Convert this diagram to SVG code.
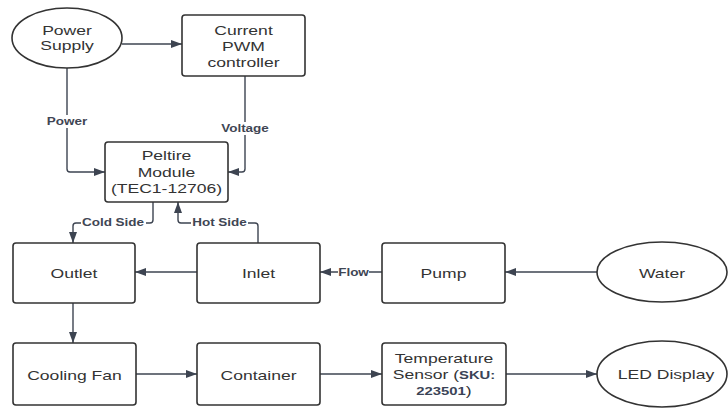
<svg xmlns="http://www.w3.org/2000/svg" width="728" height="408" viewBox="0 0 728 408">
<style>
.box{fill:#fff;stroke:#333;stroke-width:1.6}
.t{font-family:"Liberation Sans",Arial,sans-serif;font-size:13px;fill:#333;text-anchor:middle}
.lb{font-family:"Liberation Sans",Arial,sans-serif;font-size:10px;font-weight:bold;fill:#3f4654;text-anchor:middle}
.c{fill:none;stroke:#3d4451;stroke-width:1.4;marker-end:url(#ah)}
.bg{fill:#fff}
</style>
<defs>
<marker id="ah" markerUnits="userSpaceOnUse" markerWidth="12" markerHeight="10" refX="11" refY="4" orient="auto">
<path d="M0,0 L11,4 L0,8 Z" fill="#3d4451"/>
</marker>
</defs>
<rect width="728" height="408" fill="#fff"/>
<g id="connectors">
<path class="c" d="M122,44 H182"/>
<path class="c" d="M67,68 V169 Q67,172 70,172 H105"/>
<path class="c" d="M245,76 V169 Q245,172 242,172 H228"/>
<path class="c" d="M153,202 V220 Q153,223 150,223 H76 Q73,223 73,226 V243"/>
<path class="c" d="M258,243 V226 Q258,223 255,223 H181 Q178,223 178,220 V202"/>
<path class="c" d="M197,272 H135"/>
<path class="c" d="M382,272 H320"/>
<path class="c" d="M597,272 H505"/>
<path class="c" d="M73,303 V343"/>
<path class="c" d="M136,374 H197"/>
<path class="c" d="M320,374 H382"/>
<path class="c" d="M506,374 H597"/>
<rect class="bg" x="45" y="115" width="44" height="13"/>
<text class="lb" transform="translate(67 125) scale(1.35 1)">Power</text>
<rect class="bg" x="219" y="122" width="52" height="13"/>
<text class="lb" transform="translate(245 132) scale(1.35 1)">Voltage</text>
<rect class="bg" x="81" y="216" width="65" height="13"/>
<text class="lb" transform="translate(113 226) scale(1.35 1)">Cold Side</text>
<rect class="bg" x="191" y="216" width="57" height="13"/>
<text class="lb" transform="translate(219.5 226) scale(1.35 1)">Hot Side</text>
<rect class="bg" x="338" y="266" width="31" height="13"/>
<text class="lb" transform="translate(353.5 276) scale(1.35 1)">Flow</text>
</g>
<g id="power-supply">
<ellipse class="box" cx="67" cy="38" rx="55" ry="30"/>
<text class="t" transform="translate(67 35) scale(1.35 1)">Power</text>
<text class="t" transform="translate(67 50) scale(1.35 1)">Supply</text>
</g>
<g id="pwm-controller">
<rect class="box" x="182" y="15" width="123" height="61" rx="3"/>
<text class="t" transform="translate(243.5 35) scale(1.35 1)">Current</text>
<text class="t" transform="translate(243.5 51) scale(1.35 1)">PWM</text>
<text class="t" transform="translate(243.5 67) scale(1.35 1)">controller</text>
</g>
<g id="peltire">
<rect class="box" x="105" y="142" width="123" height="60" rx="3"/>
<text class="t" transform="translate(166.5 160) scale(1.35 1)">Peltire</text>
<text class="t" transform="translate(166.5 177) scale(1.35 1)">Module</text>
<text class="t" transform="translate(166.5 193) scale(1.35 1)">(TEC1-12706)</text>
</g>
<g id="outlet">
<rect class="box" x="13" y="243" width="122" height="60" rx="3"/>
<text class="t" transform="translate(74 278) scale(1.35 1)">Outlet</text>
</g>
<g id="inlet">
<rect class="box" x="197" y="243" width="123" height="60" rx="3"/>
<text class="t" transform="translate(258.5 278) scale(1.35 1)">Inlet</text>
</g>
<g id="pump">
<rect class="box" x="382" y="243" width="123" height="60" rx="3"/>
<text class="t" transform="translate(443.5 278) scale(1.35 1)">Pump</text>
</g>
<g id="water">
<ellipse class="box" cx="662" cy="272" rx="65" ry="30"/>
<text class="t" transform="translate(662 278) scale(1.35 1)">Water</text>
</g>
<g id="cooling-fan">
<rect class="box" x="13" y="343" width="123" height="62" rx="3"/>
<text class="t" transform="translate(74.5 380) scale(1.35 1)">Cooling Fan</text>
</g>
<g id="container">
<rect class="box" x="197" y="343" width="123" height="62" rx="3"/>
<text class="t" transform="translate(258.5 380) scale(1.35 1)">Container</text>
</g>
<g id="temperature-sensor">
<rect class="box" x="382" y="343" width="124" height="62" rx="3"/>
<text class="t" transform="translate(444 363) scale(1.35 1)">Temperature</text>
<text class="t" transform="translate(444 379) scale(1.35 1)">Sensor (<tspan font-weight="bold" font-size="11px" fill="#3a4356">SKU:</tspan></text>
<text class="t" transform="translate(444 395) scale(1.35 1)"><tspan font-weight="bold" font-size="11px" fill="#3a4356">223501</tspan>)</text>
</g>
<g id="led-display">
<ellipse class="box" cx="662" cy="374" rx="65" ry="33"/>
<text class="t" transform="translate(666 379) scale(1.35 1)">LED Display</text>
</g>
</svg>
